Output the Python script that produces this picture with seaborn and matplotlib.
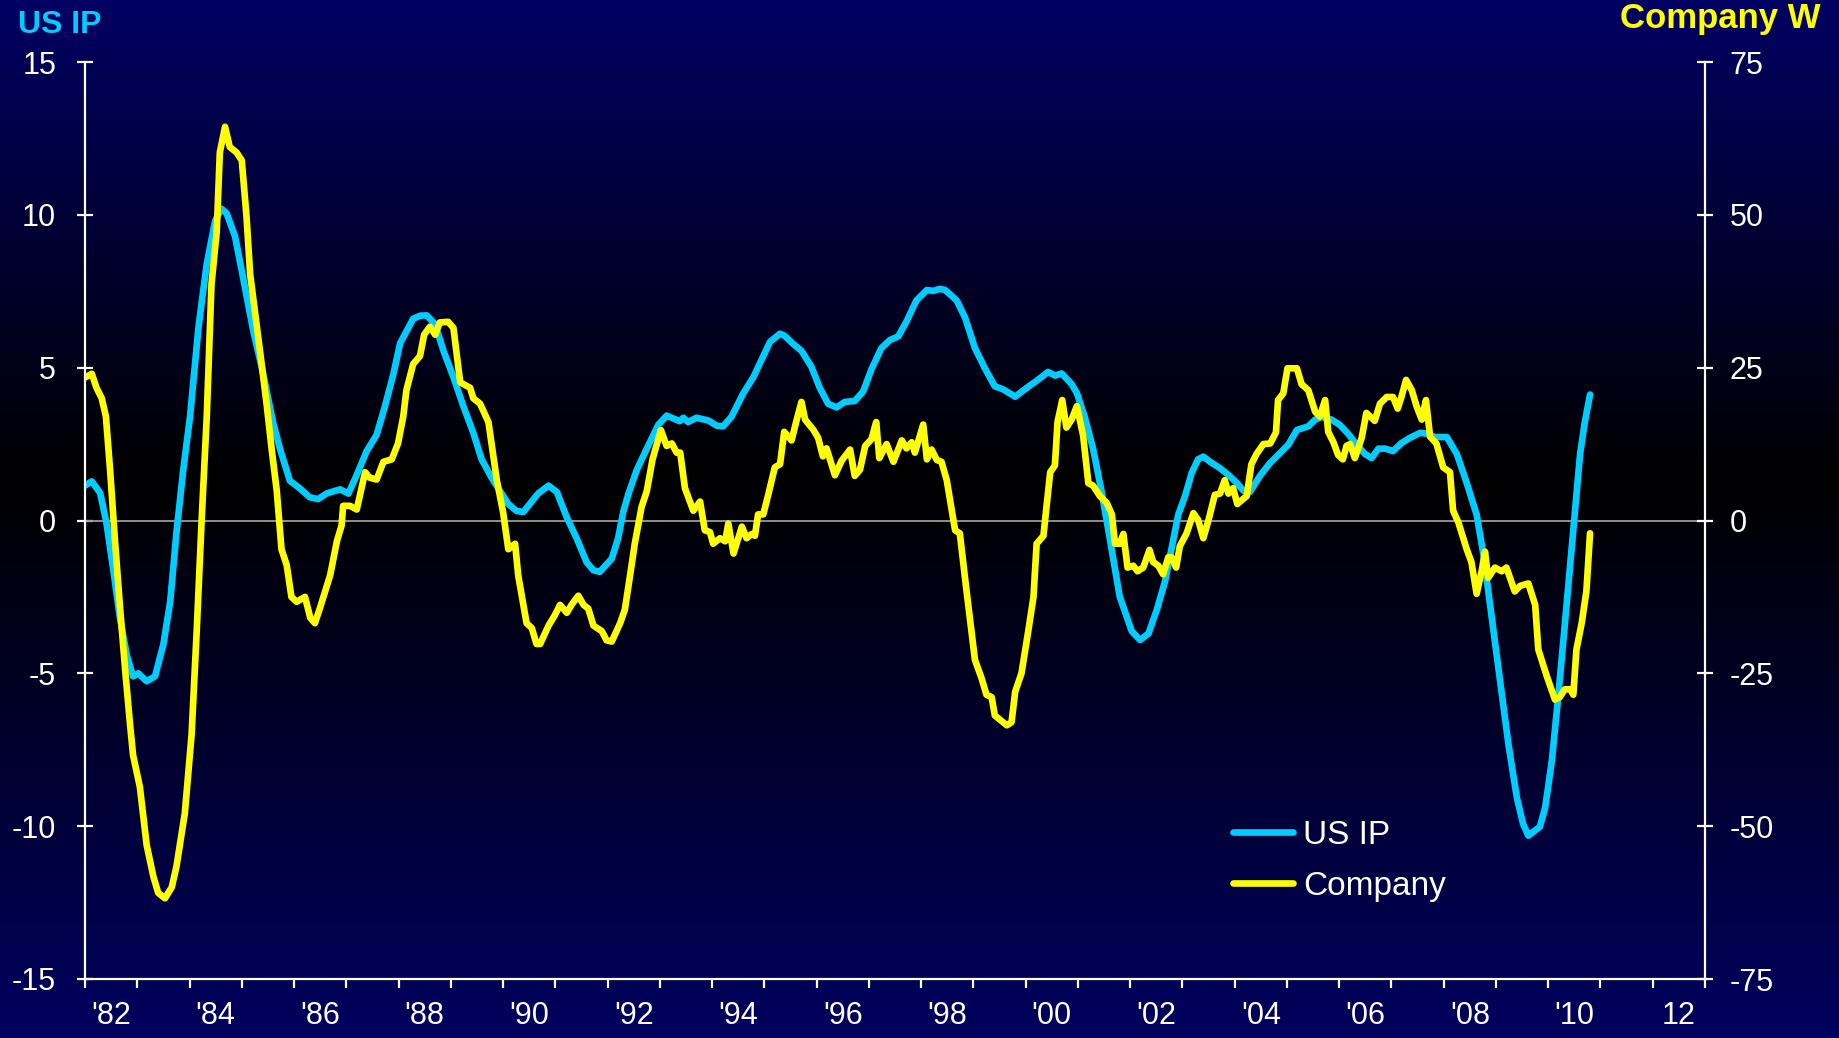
import numpy as np
import pandas as pd
import matplotlib
matplotlib.use("Agg")
import matplotlib.pyplot as plt
import seaborn as sns

# ---- data ----
ip_year = [1982.00, 1982.13, 1982.29, 1982.41, 1982.54, 1982.67, 1982.80, 1982.92, 1983.02, 1983.18,
           1983.34, 1983.50, 1983.63, 1983.75, 1983.88, 1984.01, 1984.17, 1984.33, 1984.49, 1984.61,
           1984.71, 1984.87, 1985.03, 1985.22, 1985.41, 1985.60, 1985.73, 1985.92, 1986.11, 1986.30,
           1986.46, 1986.62, 1986.88, 1987.04, 1987.20, 1987.39, 1987.58, 1987.74, 1987.90, 1988.03,
           1988.28, 1988.41, 1988.54, 1988.70, 1988.86, 1989.05, 1989.24, 1989.43, 1989.59, 1989.78,
           1989.94, 1990.10, 1990.26, 1990.39, 1990.51, 1990.67, 1990.87, 1991.03, 1991.22, 1991.41,
           1991.60, 1991.73, 1991.85, 1992.08, 1992.20, 1992.30, 1992.40, 1992.56, 1992.75, 1992.97,
           1993.13, 1993.38, 1993.45, 1993.54, 1993.70, 1993.93, 1994.09, 1994.21, 1994.37, 1994.60,
           1994.79, 1995.11, 1995.30, 1995.39, 1995.55, 1995.71, 1995.90, 1996.06, 1996.22, 1996.38,
           1996.54, 1996.73, 1996.89, 1997.05, 1997.24, 1997.40, 1997.56, 1997.72, 1997.91, 1998.11,
           1998.23, 1998.36, 1998.46, 1998.68, 1998.84, 1999.03, 1999.22, 1999.41, 1999.57, 1999.80,
           2000.02, 2000.21, 2000.43, 2000.56, 2000.69, 2000.88, 2000.98, 2001.13, 2001.29, 2001.45,
           2001.61, 2001.80, 2002.03, 2002.19, 2002.35, 2002.51, 2002.67, 2002.79, 2002.92, 2003.05,
           2003.18, 2003.30, 2003.40, 2003.53, 2003.72, 2003.88, 2004.04, 2004.17, 2004.29, 2004.48,
           2004.67, 2004.87, 2005.03, 2005.19, 2005.41, 2005.54, 2005.66, 2005.85, 2006.01, 2006.17,
           2006.33, 2006.49, 2006.62, 2006.75, 2006.88, 2007.03, 2007.19, 2007.35, 2007.55, 2007.67,
           2007.83, 2008.06, 2008.25, 2008.44, 2008.63, 2008.76, 2008.92, 2009.08, 2009.24, 2009.40,
           2009.52, 2009.62, 2009.71, 2009.84, 2009.94, 2010.07, 2010.19, 2010.32, 2010.42, 2010.51,
           2010.61, 2010.70, 2010.80]
ip_value = [1.14, 1.28, 0.90, -0.07, -1.60, -3.20, -4.40, -5.10, -5.00, -5.26,
            -5.10, -4.05, -2.66, -0.40, 1.66, 3.40, 6.30, 8.40, 9.80, 10.20,
            10.05, 9.30, 7.90, 6.20, 4.80, 3.20, 2.35, 1.30, 1.05, 0.76,
            0.70, 0.88, 1.02, 0.88, 1.49, 2.27, 2.80, 3.74, 4.78, 5.80,
            6.60, 6.70, 6.71, 6.42, 5.55, 4.69, 3.74, 2.87, 2.00, 1.40,
            0.97, 0.54, 0.31, 0.28, 0.54, 0.88, 1.14, 0.93, 0.10, -0.59,
            -1.37, -1.63, -1.68, -1.25, -0.59, 0.28, 0.88, 1.66, 2.35, 3.13,
            3.43, 3.25, 3.36, 3.22, 3.36, 3.27, 3.10, 3.08, 3.39, 4.17,
            4.69, 5.85, 6.11, 6.04, 5.78, 5.55, 5.03, 4.34, 3.82, 3.70,
            3.88, 3.91, 4.22, 4.95, 5.64, 5.90, 6.02, 6.51, 7.20, 7.54,
            7.51, 7.58, 7.54, 7.20, 6.64, 5.64, 4.98, 4.39, 4.29, 4.05,
            4.34, 4.57, 4.86, 4.74, 4.81, 4.46, 4.17, 3.39, 2.35, 0.97,
            -0.59, -2.49, -3.62, -3.91, -3.70, -2.92, -1.97, -0.93, 0.19, 0.80,
            1.57, 2.00, 2.09, 1.92, 1.71, 1.49, 1.23, 0.97, 0.93, 1.45,
            1.87, 2.21, 2.49, 2.96, 3.08, 3.30, 3.39, 3.30, 3.13, 2.84,
            2.49, 2.18, 2.04, 2.35, 2.35, 2.27, 2.53, 2.70, 2.87, 2.84,
            2.73, 2.73, 2.18, 1.23, 0.19, -1.11, -3.18, -5.26, -7.34, -9.07,
            -9.93, -10.31, -10.19, -10.02, -9.41, -7.85, -5.78, -3.36, -1.45, 0.28,
            2.18, 3.22, 4.12]

co_year = [1982.00, 1982.13, 1982.22, 1982.32, 1982.40, 1982.48, 1982.57, 1982.67, 1982.77, 1982.86,
           1982.92, 1983.05, 1983.18, 1983.31, 1983.40, 1983.53, 1983.66, 1983.75, 1983.91, 1984.04,
           1984.14, 1984.23, 1984.33, 1984.42, 1984.52, 1984.58, 1984.68, 1984.77, 1984.90, 1985.00,
           1985.09, 1985.16, 1985.25, 1985.38, 1985.48, 1985.57, 1985.67, 1985.76, 1985.86, 1985.95,
           1986.05, 1986.21, 1986.31, 1986.40, 1986.50, 1986.69, 1986.82, 1986.91, 1986.94, 1987.07,
           1987.20, 1987.36, 1987.45, 1987.58, 1987.71, 1987.87, 1987.99, 1988.09, 1988.15, 1988.28,
           1988.41, 1988.49, 1988.60, 1988.70, 1988.79, 1988.95, 1989.05, 1989.18, 1989.37, 1989.43,
           1989.56, 1989.72, 1989.88, 1990.00, 1990.10, 1990.23, 1990.29, 1990.45, 1990.55, 1990.64,
           1990.71, 1990.87, 1990.99, 1991.09, 1991.22, 1991.31, 1991.44, 1991.54, 1991.63, 1991.73,
           1991.89, 1991.98, 1992.08, 1992.24, 1992.33, 1992.43, 1992.52, 1992.65, 1992.75, 1992.86,
           1993.02, 1993.13, 1993.23, 1993.32, 1993.39, 1993.48, 1993.64, 1993.77, 1993.86, 1993.96,
           1994.02, 1994.15, 1994.25, 1994.31, 1994.41, 1994.57, 1994.66, 1994.76, 1994.82, 1994.88,
           1994.98, 1995.08, 1995.20, 1995.30, 1995.38, 1995.52, 1995.62, 1995.71, 1995.78, 1995.94,
           1996.03, 1996.12, 1996.19, 1996.35, 1996.48, 1996.64, 1996.73, 1996.83, 1996.93, 1997.05,
           1997.14, 1997.20, 1997.34, 1997.47, 1997.63, 1997.72, 1997.82, 1997.88, 1998.04, 1998.11,
           1998.20, 1998.30, 1998.39, 1998.49, 1998.65, 1998.74, 1998.87, 1999.03, 1999.16, 1999.25,
           1999.35, 1999.41, 1999.54, 1999.64, 1999.73, 1999.80, 1999.92, 2000.05, 2000.15, 2000.21,
           2000.34, 2000.43, 2000.47, 2000.56, 2000.61, 2000.70, 2000.78, 2000.88, 2000.98, 2001.10,
           2001.20, 2001.29, 2001.42, 2001.55, 2001.65, 2001.71, 2001.80, 2001.87, 2001.95, 2002.06,
           2002.14, 2002.25, 2002.37, 2002.44, 2002.54, 2002.63, 2002.73, 2002.79, 2002.88, 2002.95,
           2003.08, 2003.21, 2003.30, 2003.40, 2003.50, 2003.62, 2003.72, 2003.81, 2003.88, 2003.97,
           2004.05, 2004.23, 2004.32, 2004.42, 2004.55, 2004.68, 2004.79, 2004.83, 2004.93, 2005.01,
           2005.19, 2005.28, 2005.41, 2005.54, 2005.63, 2005.73, 2005.79, 2005.89, 2005.98, 2006.07,
           2006.14, 2006.21, 2006.30, 2006.43, 2006.52, 2006.68, 2006.78, 2006.91, 2007.03, 2007.12,
           2007.19, 2007.28, 2007.39, 2007.48, 2007.58, 2007.66, 2007.74, 2007.86, 2007.99, 2008.12,
           2008.18, 2008.28, 2008.44, 2008.53, 2008.63, 2008.73, 2008.79, 2008.85, 2008.98, 2009.11,
           2009.20, 2009.36, 2009.46, 2009.62, 2009.75, 2009.81, 2009.97, 2010.13, 2010.22, 2010.32,
           2010.42, 2010.48, 2010.54, 2010.64, 2010.73, 2010.80]
co_value = [23.4, 24.0, 21.7, 20.0, 17.0, 8.3, -2.9, -14.2, -24.6, -33.2,
            -38.4, -43.6, -53.1, -58.3, -60.9, -61.8, -60.0, -56.6, -47.9, -35.0,
            -17.6, -0.3, 17.0, 38.6, 47.2, 60.2, 64.4, 61.1, 60.2, 58.9,
            49.8, 40.3, 34.3, 25.6, 18.7, 11.8, 4.8, -4.7, -7.3, -12.5,
            -13.3, -12.5, -15.9, -16.8, -14.2, -9.0, -3.4, -0.8, 2.4, 2.4,
            1.8, 7.9, 7.0, 6.7, 9.6, 10.0, 12.6, 17.0, 21.3, 25.6,
            26.9, 30.4, 31.7, 30.4, 32.4, 32.5, 31.5, 22.6, 21.7, 20.0,
            19.1, 16.1, 6.6, 1.4, -4.7, -3.8, -9.0, -16.8, -17.6, -20.2,
            -20.2, -17.2, -15.5, -13.8, -15.1, -13.8, -12.3, -13.8, -14.4, -17.2,
            -18.1, -19.6, -19.8, -16.8, -14.6, -9.0, -3.8, 2.2, 4.8, 10.0,
            14.8, 12.2, 12.6, 11.1, 11.1, 5.3, 1.6, 3.1, -1.6, -1.9,
            -3.8, -2.9, -3.4, -0.5, -5.4, -1.0, -2.9, -2.2, -2.5, 1.0,
            1.0, 4.4, 8.7, 9.2, 14.5, 13.1, 16.5, 19.4, 16.5, 14.8,
            13.5, 10.5, 11.8, 7.4, 9.8, 11.6, 7.3, 8.3, 12.2, 13.3,
            16.1, 10.2, 12.5, 9.6, 13.1, 11.8, 12.8, 11.1, 15.7, 10.0,
            11.6, 9.9, 9.6, 6.6, -1.6, -2.1, -11.6, -22.8, -25.9, -28.5,
            -28.9, -31.9, -32.8, -33.5, -33.0, -28.0, -25.0, -18.1, -12.5, -3.8,
            -2.5, 4.8, 7.9, 9.0, 16.1, 19.7, 15.2, 16.5, 18.7, 13.9,
            6.1, 5.7, 4.0, 2.9, 1.0, -3.8, -3.8, -2.2, -7.7, -7.4,
            -8.3, -7.7, -4.8, -6.8, -7.4, -8.8, -6.0, -6.0, -7.7, -4.2,
            -2.1, 1.2, 0.1, -2.9, 0.1, 4.2, 4.4, 6.6, 4.4, 5.3,
            2.7, 4.0, 9.2, 10.9, 12.5, 12.6, 14.4, 19.7, 20.8, 24.9,
            24.9, 22.3, 21.3, 17.8, 17.0, 19.7, 14.5, 12.8, 10.7, 10.0,
            12.2, 12.5, 10.2, 13.5, 17.6, 16.3, 19.1, 20.2, 20.2, 18.3,
            20.2, 23.0, 21.3, 18.7, 16.5, 19.7, 13.7, 12.6, 8.7, 7.9,
            1.6, -0.3, -4.7, -6.8, -12.0, -8.1, -5.1, -9.4, -7.7, -8.3,
            -7.7, -11.6, -10.7, -10.3, -13.8, -21.1, -25.4, -29.3, -28.9, -27.6,
            -27.6, -28.5, -21.1, -16.8, -11.6, -2.1]

year_labels = ["'82", "'84", "'86", "'88", "'90", "'92", "'94", "'96", "'98",
               "'00", "'02", "'04", "'06", "'08", "'10", "12"]

ip = pd.DataFrame({"year": ip_year, "value": ip_value})
co = pd.DataFrame({"year": co_year, "value": co_value})

CYAN = "#00ccff"
YELLOW = "#ffff00"

sns.set_theme(style="ticks")
plt.rcParams["font.family"] = ["Liberation Sans", "DejaVu Sans"]
plt.rcParams["axes.unicode_minus"] = False

W, H = 1840, 1038
fig = plt.figure(figsize=(W / 100, H / 100), dpi=100)

# background gradient navy -> black -> navy
bg = fig.add_axes([0, 0, 1, 1], zorder=-5)
t = np.linspace(0, 1, H)
t0 = 480 / H
blue = np.where(t < t0, 0.39 * (1 - t / t0), 0.37 * (t - t0) / (1 - t0))
img = np.zeros((H, 1, 3))
img[:, 0, 2] = blue
bg.imshow(img, aspect="auto", extent=[0, 1, 0, 1])
bg.axis("off")

ax = fig.add_axes([85 / W, 1 - 979 / H, 1620 / W, 917 / H])
ax.patch.set_alpha(0)
ax2 = ax.twinx()

sns.lineplot(data=ip, x="year", y="value", ax=ax, color=CYAN, linewidth=4.8,
             label="US IP", legend=False)
sns.lineplot(data=co, x="year", y="value", ax=ax2, color=YELLOW, linewidth=4.8,
             label="Company", legend=False)
ax.axhline(0, color="#9a9a9a", lw=1.3, zorder=1)

ax.set_xlim(1982, 2013)
ax.set_ylim(-15, 15)
ax2.set_ylim(-75, 75)
ax.set_yticks(range(-15, 16, 5))
ax2.set_yticks(range(-75, 76, 25))
ax.set_xlabel("")
ax.set_ylabel("")
ax2.set_ylabel("")

ax.set_xticks(np.arange(1982, 2014))
ax.set_xticklabels([])
ax.set_xticks([y + 0.5 for y in range(1982, 2013, 2)], minor=True)
ax.set_xticklabels(year_labels, minor=True)

for a in (ax, ax2):
    for s in a.spines.values():
        s.set_visible(False)
for s in ("left", "bottom"):
    ax.spines[s].set_visible(True)
    ax.spines[s].set_color("white")
    ax.spines[s].set_linewidth(1.6)
ax2.spines["right"].set_visible(True)
ax2.spines["right"].set_color("white")
ax2.spines["right"].set_linewidth(1.6)

ax.tick_params(axis="y", direction="inout", length=11.5, width=1.6, color="white",
               labelcolor="white", labelsize=22, pad=15)
ax2.tick_params(axis="y", direction="inout", length=11.5, width=1.6, color="white",
                labelcolor="white", labelsize=22, pad=12)
ax.tick_params(axis="x", which="major", direction="out", length=6.5, width=1.6, color="white")
ax.tick_params(axis="x", which="minor", length=0, labelcolor="white", labelsize=22, pad=16)

fig.text(18 / W, 1 - 33 / H, "US IP", color=CYAN, fontsize=23, fontweight="bold",
         ha="left", va="baseline")
fig.text(1821 / W, 1 - 28 / H, "Company W", color=YELLOW, fontsize=25, fontweight="bold",
         ha="right", va="baseline")

h1, l1 = ax.get_legend_handles_labels()
h2, l2 = ax2.get_legend_handles_labels()
leg = ax2.legend(h1 + h2, l1 + l2, loc="center left", bbox_to_anchor=(1233 / W, 1 - 861 / H),
                 bbox_transform=fig.transFigure, frameon=False, fontsize=24, handlelength=1.8,
                 handletextpad=0.3, labelspacing=0.6, borderpad=0, borderaxespad=0)
for txt in leg.get_texts():
    txt.set_color("white")

fig.savefig("out.png", dpi=100)
